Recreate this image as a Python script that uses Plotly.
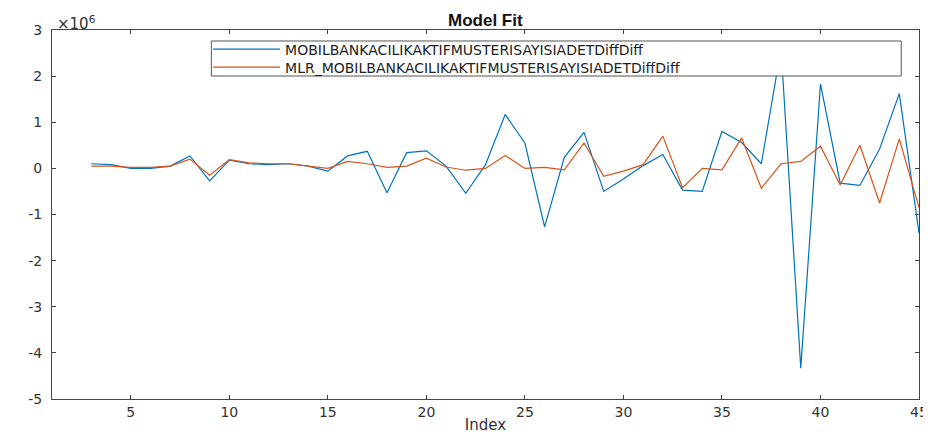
import plotly.graph_objects as go

index = list(range(3, 46))
actual = [0.10, 0.08, 0.00, 0.00, 0.05, 0.27, -0.27, 0.18, 0.10, 0.08, 0.10, 0.05, -0.06,
          0.27, 0.37, -0.53, 0.34, 0.38, 0.05, -0.54, 0.08, 1.17, 0.55, -1.27, 0.24, 0.78,
          -0.50, -0.23, 0.06, 0.30, -0.47, -0.50, 0.80, 0.56, 0.10, 2.60, -4.33, 1.83,
          -0.32, -0.37, 0.42, 1.62, -1.40]
fitted = [0.05, 0.05, 0.02, 0.02, 0.05, 0.20, -0.15, 0.19, 0.12, 0.10, 0.10, 0.05, 0.00,
          0.15, 0.10, 0.02, 0.05, 0.22, 0.03, -0.04, 0.00, 0.28, 0.00, 0.02, -0.03, 0.55,
          -0.17, -0.06, 0.08, 0.70, -0.42, 0.00, -0.03, 0.66, -0.43, 0.10, 0.15, 0.48,
          -0.36, 0.50, -0.75, 0.64, -0.85]
scale = 1e6
names = ["MOBILBANKACILIKAKTIFMUSTERISAYISIADETDiffDiff",
         "MLR_MOBILBANKACILIKAKTIFMUSTERISAYISIADETDiffDiff"]
x_ticks = [5, 10, 15, 20, 25, 30, 35, 40, 45]
y_ticks = [-5, -4, -3, -2, -1, 0, 1, 2, 3]

FONT = "DejaVu Sans"
AX = "#444444"
TXT = "#333333"

fig = go.Figure()
fig.add_trace(go.Scatter(x=index, y=[v * scale for v in actual], mode="lines",
                         name=names[0], legend="legend",
                         line=dict(color="#0072BD", width=1.2)))
fig.add_trace(go.Scatter(x=index, y=[v * scale for v in fitted], mode="lines",
                         name=names[1], legend="legend2",
                         line=dict(color="#D95319", width=1.2)))

leg_common = dict(xanchor="left", yanchor="middle", bgcolor="rgba(0,0,0,0)",
                  borderwidth=0, font=dict(family=FONT, size=14, color="#222222"),
                  itemwidth=67)

fig.update_layout(
    width=931, height=434,
    margin=dict(l=44, r=11, t=22, b=43),
    paper_bgcolor="white", plot_bgcolor="white",
    showlegend=True,
    legend=dict(x=0.180, y=0.9472, **leg_common),
    legend2=dict(x=0.180, y=0.8984, **leg_common),
    shapes=[dict(type="rect", xref="paper", yref="paper",
                 x0=0.1838, x1=0.9795, y0=0.8753, y1=0.9702,
                 fillcolor="white", line=dict(color="#555555", width=1), layer="above")],
    annotations=[
        dict(text="<b>Model Fit</b>", xref="paper", yref="paper", x=0.5, y=1.0244,
             xanchor="center", yanchor="middle", showarrow=False,
             font=dict(family="Liberation Sans", size=17, color="#111111")),
        dict(text="×10<sup>6</sup>", xref="paper", yref="paper", x=0.003, y=1.019,
             xanchor="left", yanchor="middle", showarrow=False,
             font=dict(family=FONT, size=15, color=TXT)),
    ],
)
fig.update_xaxes(range=[1, 45], tickvals=x_ticks, ticktext=[str(t) for t in x_ticks],
                 ticks="inside", ticklen=4, tickcolor=AX, showline=True, linecolor=AX,
                 linewidth=1, mirror="ticks", showgrid=False, zeroline=False,
                 tickfont=dict(family=FONT, size=14, color=TXT),
                 title=dict(text="Index", font=dict(family=FONT, size=15, color=TXT),
                            standoff=0))
fig.update_yaxes(range=[-5e6, 3e6], tickvals=[t * scale for t in y_ticks],
                 ticktext=[str(t) for t in y_ticks], ticklabelstandoff=6,
                 ticks="inside", ticklen=4, tickcolor=AX, showline=True, linecolor=AX,
                 linewidth=1, mirror="ticks", showgrid=False, zeroline=False,
                 tickfont=dict(family=FONT, size=14, color=TXT))

fig.write_html("out.html")
